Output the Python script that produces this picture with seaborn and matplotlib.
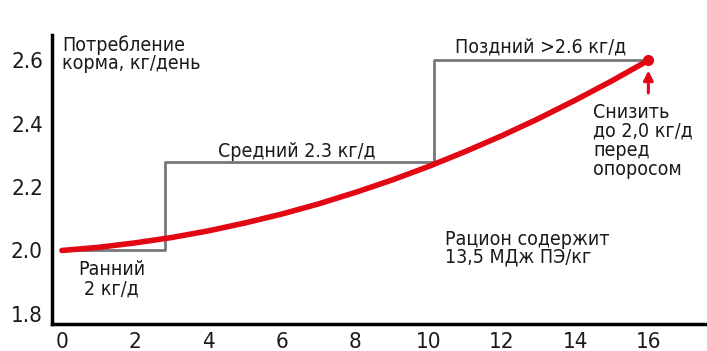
import matplotlib
matplotlib.use("Agg")
import matplotlib.pyplot as plt
import seaborn as sns
import pandas as pd

# Data
weeks = [0, 1, 2, 3, 4, 5, 6, 7, 8, 9, 10, 11, 12, 13, 14, 15, 16]
intake = [2.00, 2.01, 2.024, 2.041, 2.062, 2.087, 2.115, 2.147, 2.183, 2.222,
          2.265, 2.312, 2.362, 2.416, 2.474, 2.535, 2.60]
step_x = [0, 2.8, 10.15, 16]
step_y = [2.0, 2.28, 2.6, 2.6]
x_ticks = [0, 2, 4, 6, 8, 10, 12, 14, 16]
y_ticks = [1.8, 2.0, 2.2, 2.4, 2.6]

sns.set_style("white")
plt.rcParams['font.family'] = ['DejaVu Sans']
plt.rcParams['font.stretch'] = 'condensed'
plt.rcParams['text.color'] = '#1a1a1a'

fig = plt.figure(figsize=(7.07, 3.51), dpi=100)
ax = fig.add_axes([52/707, 27/351, 655/707, 289/351])

curve = pd.DataFrame({"x": weeks, "y": intake})
steps = pd.DataFrame({"x": step_x, "y": step_y})

sns.lineplot(data=steps, x="x", y="y", ax=ax, color="#777777", lw=2,
             drawstyle="steps-post", zorder=2)
sns.lineplot(data=curve, x="x", y="y", ax=ax, color="#e30613", lw=4, zorder=3)
ax.plot([weeks[-1]], [intake[-1]], "o", color="#e30613", ms=7, zorder=4)

ax.annotate("", xy=(16, 2.568), xytext=(16, 2.497),
            arrowprops=dict(arrowstyle="-|>", color="#e30613", lw=2.2,
                            mutation_scale=14, shrinkA=0, shrinkB=0))

ax.set_xlim(-0.27, 17.6)
ax.set_ylim(1.768, 2.68)
ax.set_xticks(x_ticks)
ax.set_yticks(y_ticks)
ax.set_xticklabels([str(v) for v in x_ticks])
ax.set_yticklabels([f"{v:.1f}" for v in y_ticks])
ax.tick_params(labelsize=16, length=0, colors="#1a1a1a")
ax.tick_params(axis="y", pad=6.5)
ax.tick_params(axis="x", pad=6)
ax.set_xlabel("")
ax.set_ylabel("")
for s in ["top", "right"]:
    ax.spines[s].set_visible(False)
for s in ["left", "bottom"]:
    ax.spines[s].set_linewidth(2.5)
    ax.spines[s].set_color("black")

fs = 14
ax.text(0.0, 2.68, "Потребление\nкорма, кг/день", fontsize=fs, va="top",
        ha="left", linespacing=0.95)
ax.text(1.35, 1.969, "Ранний\n2 кг/д", fontsize=fs, va="top", ha="center",
        linespacing=1.0)
ax.text(6.42, 2.294, "Средний 2.3 кг/д", fontsize=fs, va="baseline",
        ha="center")
ax.text(13.06, 2.625, "Поздний >2.6 кг/д", fontsize=fs, va="baseline",
        ha="center")
ax.text(14.5, 2.466, "Снизить\nдо 2,0 кг/д\nперед\nопоросом", fontsize=fs,
        va="top", ha="left", linespacing=1.0)
ax.text(10.45, 2.066, "Рацион содержит\n13,5 МДж ПЭ/кг", fontsize=fs,
        va="top", ha="left", linespacing=0.95)

fig.savefig("out.png", dpi=100)
